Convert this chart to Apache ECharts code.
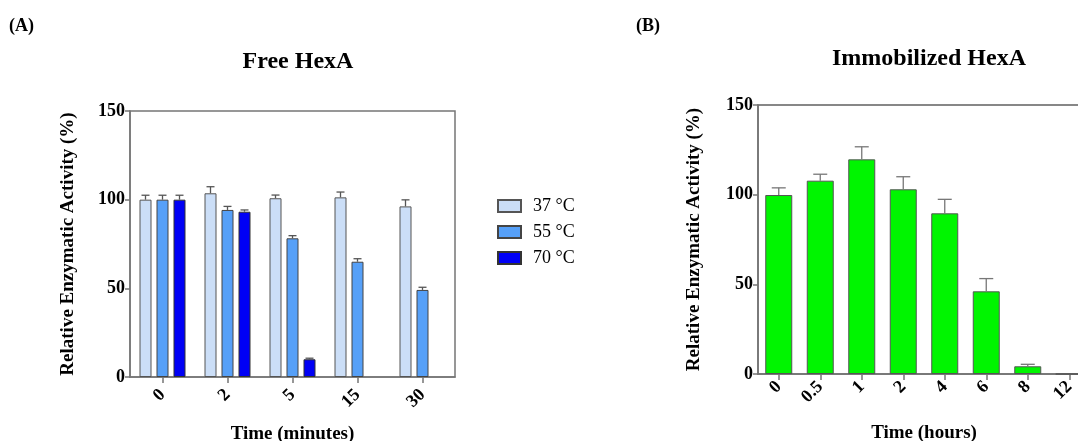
<!DOCTYPE html>
<html>
<head>
<meta charset="utf-8">
<script src="https://cdn.jsdelivr.net/npm/echarts@6/dist/echarts.min.js"></script>
<style>
  html, body { margin: 0; padding: 0; background: #fff; overflow: hidden; }
  #main { width: 1096px; height: 441px; }
</style>
</head>
<body>
<div id="main"></div>
<script>
// 数据 (A) Free HexA
var minutes = ['0', '2', '5', '15', '30'];
var t37 = [100, 103.6, 100.8, 101.3, 96.2];
var t37Err = [2.5, 3.7, 1.8, 3, 3.7];
var t55 = [100, 94.2, 78.2, 65, 49.1];
var t55Err = [2.5, 2, 1.5, 1.7, 1.5];
var t70 = [100, 93.2, 10, null, null];
var t70Err = [2.5, 1, 0.6, null, null];

// 数据 (B) Immobilized HexA
var hours = ['0', '0.5', '1', '2', '4', '6', '8', '12'];
var immo = [99.8, 107.8, 119.7, 103, 89.6, 46.1, 4.3, 0];
var immoErr = [4, 3.6, 7, 7, 7.8, 7.1, 1.1, null];

var yTicks = [0, 50, 100, 150];

var serif = 'Liberation Serif';
var axisGray = '#767676';

var chart = echarts.init(document.getElementById('main'));

// 误差棒
function errData(vals, errs) {
    return vals.map(function (v, i) { return [i, v, errs[i]]; });
}
function errorBar(offset, capHalf, color) {
    return function (params, api) {
        var e = api.value(2);
        var v = api.value(1);
        if (e == null || isNaN(e) || v == null || isNaN(v)) return;
        var base = api.coord([api.value(0), v]);
        var top = api.coord([api.value(0), v + e]);
        var x = base[0] + offset;
        var style = { stroke: color, lineWidth: 1.3 };
        return {
            type: 'group',
            children: [
                { type: 'line', shape: { x1: x, y1: base[1], x2: x, y2: top[1] }, style: style },
                { type: 'line', shape: { x1: x - capHalf, y1: top[1], x2: x + capHalf, y2: top[1] }, style: style }
            ]
        };
    };
}

var bw = 12, gap = 5;

function yAxisOpt(gridIndex, nameGap) {
    return {
        gridIndex: gridIndex,
        type: 'value',
        min: 0, max: 150, interval: 50,
        name: 'Relative Enzymatic Activity (%)',
        nameLocation: 'middle',
        nameGap: nameGap,
        nameTextStyle: { fontFamily: serif, fontWeight: 'bold', fontSize: 19, color: '#000' },
        axisLine: { show: true, lineStyle: { color: axisGray, width: 1.5 } },
        axisTick: { show: true, length: 5, lineStyle: { color: axisGray, width: 1.5 } },
        axisLabel: {
            fontFamily: serif, fontWeight: 'bold', fontSize: 18, color: '#000', margin: 5,
            formatter: function (v) { return yTicks.indexOf(v) >= 0 ? v : ''; }
        },
        splitLine: { show: false }
    };
}

function xAxisOpt(gridIndex, cats, name, margin, nameGap) {
    return {
        gridIndex: gridIndex,
        type: 'category',
        data: cats,
        name: name,
        nameLocation: 'middle',
        nameGap: nameGap,
        nameTextStyle: { fontFamily: serif, fontWeight: 'bold', fontSize: 19, color: '#000', verticalAlign: 'top' },
        axisLine: { show: true, lineStyle: { color: axisGray, width: 1.5 } },
        axisTick: { show: true, alignWithLabel: true, length: 6, lineStyle: { color: axisGray, width: 1.5 } },
        axisLabel: { rotate: 45, fontFamily: serif, fontWeight: 'bold', fontSize: 18, color: '#000', margin: margin }
    };
}

var option = {
    animation: false,
    backgroundColor: '#fff',
    title: [
        { text: '(A)', left: 4, top: 12, textStyle: { fontFamily: serif, fontWeight: 'bold', fontSize: 18, color: '#000' } },
        { text: '(B)', left: 631, top: 12, textStyle: { fontFamily: serif, fontWeight: 'bold', fontSize: 18, color: '#000' } },
        { text: 'Free HexA', left: 293, textAlign: 'center', top: 45, textStyle: { fontFamily: serif, fontWeight: 'bold', fontSize: 24, color: '#000' } },
        { text: 'Immobilized HexA', left: 924, textAlign: 'center', top: 42, textStyle: { fontFamily: serif, fontWeight: 'bold', fontSize: 24, color: '#000' } }
    ],
    legend: {
        data: ['37 °C', '55 °C', '70 °C'],
        orient: 'vertical',
        left: 492, top: 192,
        icon: 'rect',
        itemWidth: 23, itemHeight: 12, itemGap: 8,
        textStyle: { fontFamily: serif, fontSize: 18, color: '#000', padding: [0, 0, 0, 7] }
    },
    grid: [
        { left: 130, top: 111, width: 325, height: 266, outerBoundsMode: 'none', containLabel: false, show: true, borderColor: axisGray, borderWidth: 1.5, backgroundColor: 'transparent' },
        { left: 758, top: 105, width: 332, height: 269, outerBoundsMode: 'none', containLabel: false, show: true, borderColor: '#606060', borderWidth: 1.5, backgroundColor: 'transparent' }
    ],
    xAxis: [
        xAxisOpt(0, minutes, 'Time (minutes)', 15, 48),
        xAxisOpt(1, hours, 'Time (hours)', 10, 50)
    ],
    yAxis: [
        yAxisOpt(0, 52),
        yAxisOpt(1, 54)
    ],
    series: [
        {
            name: '37 °C', type: 'bar', xAxisIndex: 0, yAxisIndex: 0, data: t37,
            barWidth: bw, barGap: (gap / bw * 100) + '%',
            itemStyle: { color: '#cbdef7', borderColor: '#555', borderWidth: 1 }
        },
        {
            name: '55 °C', type: 'bar', xAxisIndex: 0, yAxisIndex: 0, data: t55,
            barWidth: bw, barGap: (gap / bw * 100) + '%',
            itemStyle: { color: '#56a0f8', borderColor: '#444', borderWidth: 1 }
        },
        {
            name: '70 °C', type: 'bar', xAxisIndex: 0, yAxisIndex: 0, data: t70,
            barWidth: bw, barGap: (gap / bw * 100) + '%',
            itemStyle: { color: '#0000f5', borderColor: '#333', borderWidth: 1 }
        },
        {
            name: 'err37', type: 'custom', xAxisIndex: 0, yAxisIndex: 0, z: 3,
            data: errData(t37, t37Err), encode: { x: 0, y: 1 },
            renderItem: errorBar(-(bw + gap), 4, '#555')
        },
        {
            name: 'err55', type: 'custom', xAxisIndex: 0, yAxisIndex: 0, z: 3,
            data: errData(t55, t55Err), encode: { x: 0, y: 1 },
            renderItem: errorBar(0, 4, '#555')
        },
        {
            name: 'err70', type: 'custom', xAxisIndex: 0, yAxisIndex: 0, z: 3,
            data: errData(t70, t70Err), encode: { x: 0, y: 1 },
            renderItem: errorBar(bw + gap, 4, '#555')
        },
        {
            name: 'Immobilized', type: 'bar', xAxisIndex: 1, yAxisIndex: 1, data: immo,
            barWidth: 27,
            itemStyle: { color: '#00f500', borderColor: '#555', borderWidth: 1 }
        },
        {
            name: 'errImmo', type: 'custom', xAxisIndex: 1, yAxisIndex: 1, z: 3,
            data: errData(immo, immoErr), encode: { x: 0, y: 1 },
            renderItem: errorBar(0, 7, '#777')
        }
    ]
};

chart.setOption(option);
</script>
</body>
</html>
